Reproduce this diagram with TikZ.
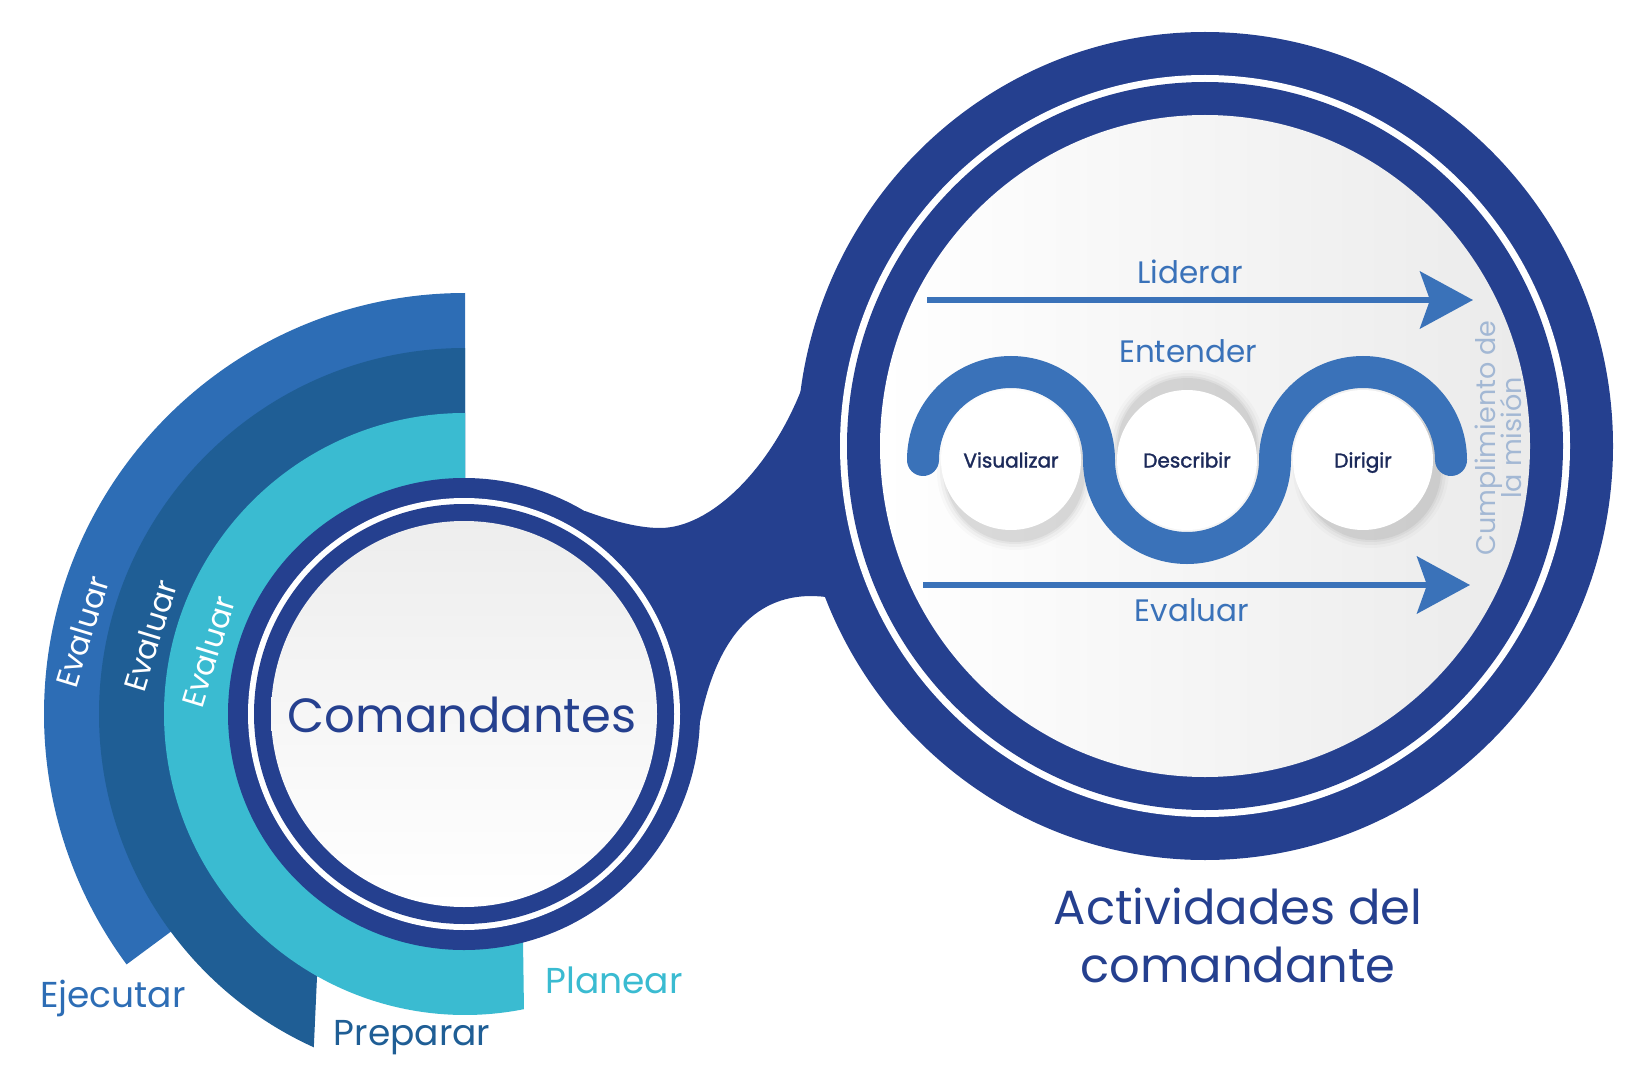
\documentclass[tikz,border=0pt]{standalone}
\usepackage{fontspec}
\setmainfont{Poppins}
\usetikzlibrary{arrows.meta,calc}
\definecolor{navy}{HTML}{25408F}
\definecolor{bandA}{HTML}{2D6DB5}
\definecolor{bandB}{HTML}{1F5E95}
\definecolor{bandC}{HTML}{3ABBD1}
\definecolor{wave}{HTML}{3A72B9}
\definecolor{ink}{HTML}{1C2A5A}
\definecolor{faint}{HTML}{A3B8D4}
\tikzset{
  lbl/.style={inner sep=0pt, anchor=base},
  bandlbl/.style={inner sep=0pt, rotate=73, text=white, font=\fontsize{31}{36}\selectfont},
  disc/.style={circle, fill=white, minimum size=140pt, inner sep=0pt, text=ink,
               font=\fontsize{20}{24}\selectfont\addfontfeatures{FakeBold=1.6},
               text height=15pt, text depth=0pt},
  arrowline/.style={wave, line width=6pt, -{Stealth[length=53pt,width=57pt,inset=10pt]}},
  inlbl/.style={lbl, text=wave, font=\fontsize{31}{36}\selectfont}
}
\begin{document}
\begin{tikzpicture}[x=1pt,y=-1pt]
\useasboundingbox (0,0) rectangle (1652,1091);
\coordinate (C) at (465,714);
\coordinate (L) at (464,714);
\coordinate (R) at (1205,446);

% ---- left arc bands
\fill[bandA] (C) -- ($(C)+(270:421)$) arc[start angle=270,end angle=143.5,radius=421]
   -- ($(C)+(143.5:366)$) -- cycle;
\fill[bandB] (C) -- ($(C)+(270:366)$) arc[start angle=270,end angle=114.4,radius=366]
   -- (317,977) -- cycle;
\fill[bandC] (C) -- ($(C)+(270:301)$) arc[start angle=270,end angle=78.7,radius=301]
   -- (523,940) -- cycle;

\node[bandlbl] (ev1) at (82,632) {Evaluar};
\node[bandlbl] (ev2) at (150,636) {Evaluar};
\node[bandlbl] (ev3) at (208,652) {Evaluar};

% ---- navy body: two rings and bridge
\fill[navy] (L) circle (236);
\fill[navy] (R) ellipse[x radius=408,y radius=414];
\fill[navy] (585,511) .. controls (615,522) and (640,528) .. (660,528)
   .. controls (710,528) and (770,470) .. (802,388) -- (1000,446) -- (826,597)
   .. controls (770,590) and (720,620) .. (700,722) -- (L) -- cycle;
\fill[white] (L) circle (216);
\fill[navy] (L) circle (210);
\shade[top color=black!7, middle color=white, bottom color=white] (L) circle (193);
\fill[white] (R) ellipse[x radius=365,y radius=371];
\fill[navy] (R) ellipse[x radius=358,y radius=364];
\shade[left color=white, right color=black!8] (R) ellipse[x radius=325,y radius=331];

% ---- texts of the left part
\node[lbl, text=navy, font=\fontsize{48}{56}\selectfont] (cmd) at (462,732) {Comandantes};
\node[lbl, text=bandA, font=\fontsize{36}{42}\selectfont] (eje) at (113,1007) {Ejecutar};
\node[lbl, text=bandB, font=\fontsize{36}{42}\selectfont] (pre) at (412,1045) {Preparar};
\node[lbl, text=bandC, font=\fontsize{36}{42}\selectfont] (pla) at (614,993) {Planear};

% ---- shadows of the small discs
\foreach \cx/\sx/\sy in {1011/4/12,1187/0/-12,1363/8/10}{
  \foreach \rr/\op in {78/0.02,75/0.03,72/0.04,70/0.05}
    \fill[black,opacity=\op] (\cx+\sx,460+\sy) circle (\rr);
}
\node[disc] (vis) at (1011,460) {Visualizar};
\node[disc] (des) at (1187,460) {Describir};
\node[disc] (dir) at (1363,460) {Dirigir};

% ---- wave
\draw[wave, line width=32pt, line cap=round] ($(vis.center)+(-88,0)$)
   arc[start angle=180,end angle=360,radius=88]
   arc[start angle=180,end angle=0,radius=88]
   arc[start angle=180,end angle=360,radius=88];

% ---- arrows
\coordinate (lidA) at (927,300);
\coordinate (lidB) at (1473,300);
\coordinate (evaA) at (923,585);
\coordinate (evaB) at (1470,585);
\draw[arrowline] (lidA) -- (lidB);
\draw[arrowline] (evaA) -- (evaB);

\node[inlbl] (lid) at (1190,284) {Liderar};
\node[inlbl] (ent) at (1188,362) {Entender};
\node[inlbl] (evr) at (1192,621) {Evaluar};

\node[lbl, rotate=90, text=faint, font=\fontsize{27}{30}\selectfont] (cum1) at (1495,438) {Cumplimiento de};
\node[lbl, rotate=90, text=faint, font=\fontsize{27}{30}\selectfont] (cum2) at (1521,438) {la misión};

\node[lbl, text=navy, font=\fontsize{48}{56}\selectfont] (act1) at (1238,924) {Actividades del};
\node[lbl, text=navy, font=\fontsize{48}{56}\selectfont] (act2) at (1238,982) {comandante};
\end{tikzpicture}
\end{document}
